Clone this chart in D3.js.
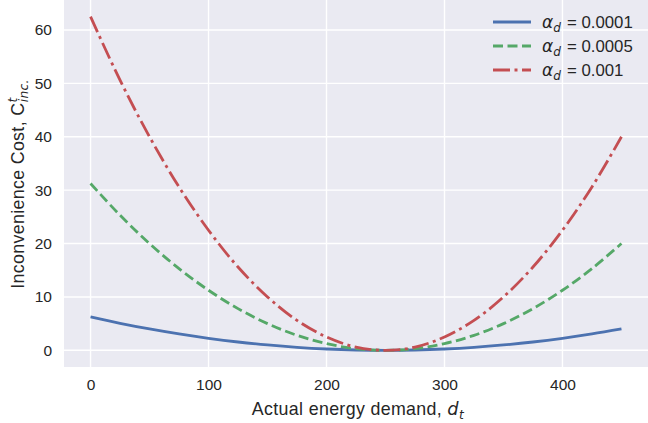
<!DOCTYPE html>
<html>
<head>
<meta charset="utf-8">
<script src="https://cdn.jsdelivr.net/npm/d3@7"></script>
<style>
  body { margin: 0; background: #fff; }
  text { font-family: "Liberation Sans", Arial, sans-serif; fill: #262626; }
</style>
</head>
<body>
<svg id="chart" width="648" height="423"></svg>
<script>
// demand values (x) and cost for each alpha
var demand = [0, 25, 50, 75, 100, 125, 150, 175, 200, 225, 250, 275, 300, 325, 350, 375, 400, 425, 450];
var cost_0001 = [6.25, 5.06, 4.0, 3.06, 2.25, 1.56, 1.0, 0.56, 0.25, 0.06, 0, 0.06, 0.25, 0.56, 1.0, 1.56, 2.25, 3.06, 4.0];
var cost_0005 = [31.25, 25.31, 20.0, 15.31, 11.25, 7.81, 5.0, 2.81, 1.25, 0.31, 0, 0.31, 1.25, 2.81, 5.0, 7.81, 11.25, 15.31, 20.0];
var cost_001 = [62.5, 50.6, 40.0, 30.6, 22.5, 15.6, 10.0, 5.6, 2.5, 0.6, 0, 0.6, 2.5, 5.6, 10.0, 15.6, 22.5, 30.6, 40.0];
var xTicks = [0, 100, 200, 300, 400];
var yTicks = [0, 10, 20, 30, 40, 50, 60];
var seriesLabels = ["0.0001", "0.0005", "0.001"];

var svg = d3.select("#chart");

// plot area
var pLeft = 64, pRight = 648, pTop = 0, pBottom = 367;

var x = d3.scaleLinear().domain([-22.5, 472.5]).range([pLeft, pRight]);
var y = d3.scaleLinear().domain([-3.125, 65.625]).range([pBottom, pTop]);

svg.append("rect")
  .attr("x", pLeft).attr("y", pTop)
  .attr("width", pRight - pLeft).attr("height", pBottom - pTop)
  .attr("fill", "#eaeaf2");

// grid
var grid = svg.append("g");
grid.selectAll(".vg").data(xTicks).enter().append("line")
  .attr("x1", d => x(d)).attr("x2", d => x(d))
  .attr("y1", pTop).attr("y2", pBottom)
  .attr("stroke", "#fff").attr("stroke-width", 1.4);
grid.selectAll(".hg").data(yTicks).enter().append("line")
  .attr("x1", pLeft).attr("x2", pRight)
  .attr("y1", d => y(d)).attr("y2", d => y(d))
  .attr("stroke", "#fff").attr("stroke-width", 1.4);

// axes (no domain line / ticks, like seaborn darkgrid)
var xAxis = svg.append("g")
  .attr("transform", "translate(0," + pBottom + ")")
  .call(d3.axisBottom(x).tickValues(xTicks).tickSize(0).tickPadding(12));
var yAxis = svg.append("g")
  .attr("transform", "translate(" + pLeft + ",0)")
  .call(d3.axisLeft(y).tickValues(yTicks).tickSize(0).tickPadding(12));
[xAxis, yAxis].forEach(a => {
  a.select(".domain").remove();
  a.attr("font-size", null).attr("font-family", null);
  a.selectAll("text")
    .style("font-size", "15.5px")
    .attr("fill", "#262626");
});

// lines
var series = [
  { values: cost_0001, color: "#4c72b0", dash: null },
  { values: cost_0005, color: "#55a868", dash: "10,4.5" },
  { values: cost_001, color: "#c44e52", dash: "17,4.5,3,4.5" }
];

var line = d3.line()
  .x((d, i) => x(demand[i]))
  .y(d => y(d))
  .curve(d3.curveCatmullRom);

svg.append("g").selectAll("path").data(series).enter().append("path")
  .attr("d", d => line(d.values))
  .attr("fill", "none")
  .attr("stroke", d => d.color)
  .attr("stroke-width", 2.8)
  .attr("stroke-dasharray", d => d.dash);

// legend
var legend = svg.append("g");
series.forEach((s, i) => {
  var ly = 22 + i * 24;
  legend.append("line")
    .attr("x1", 493).attr("x2", 531)
    .attr("y1", ly).attr("y2", ly)
    .attr("stroke", s.color).attr("stroke-width", 2.8)
    .attr("stroke-dasharray", s.dash);
  var t = legend.append("text")
    .attr("x", 542).attr("y", ly + 6)
    .style("font-family", "'DejaVu Sans'").style("font-style", "italic")
    .style("font-size", "17px");
  t.append("tspan").text("\u03b1");
  t.append("tspan").style("font-size", "12px").attr("dy", 4).text("d");
  legend.append("text")
    .attr("x", 567).attr("y", ly + 6)
    .style("font-size", "16.8px")
    .text("= " + seriesLabels[i]);
});

// x label
var xl = svg.append("text")
  .attr("x", 358).attr("y", 415)
  .attr("text-anchor", "middle")
  .style("font-size", "17.8px")
  .style("letter-spacing", "0.35px");
xl.append("tspan").text("Actual energy demand, ");
xl.append("tspan").style("font-family", "'DejaVu Sans'").style("font-style", "italic").text("d");
xl.append("tspan").style("font-family", "'DejaVu Sans'").style("font-style", "italic")
  .style("font-size", "12.2px").attr("dy", 4).text("t");

// y label
var yl = svg.append("text")
  .attr("transform", "translate(24,184) rotate(-90)")
  .attr("text-anchor", "middle")
  .style("font-size", "17.8px")
  .style("letter-spacing", "0.35px");
yl.append("tspan").text("Inconvenience Cost, C");
yl.append("tspan").style("font-family", "'DejaVu Sans'").style("font-style", "italic")
  .style("font-size", "12.2px").attr("dy", -7.5).text("t");
yl.append("tspan").style("font-family", "'DejaVu Sans'").style("font-style", "italic")
  .style("font-size", "12.2px").attr("dx", -4.8).attr("dy", 11.5).text("inc.");
</script>
</body>
</html>
